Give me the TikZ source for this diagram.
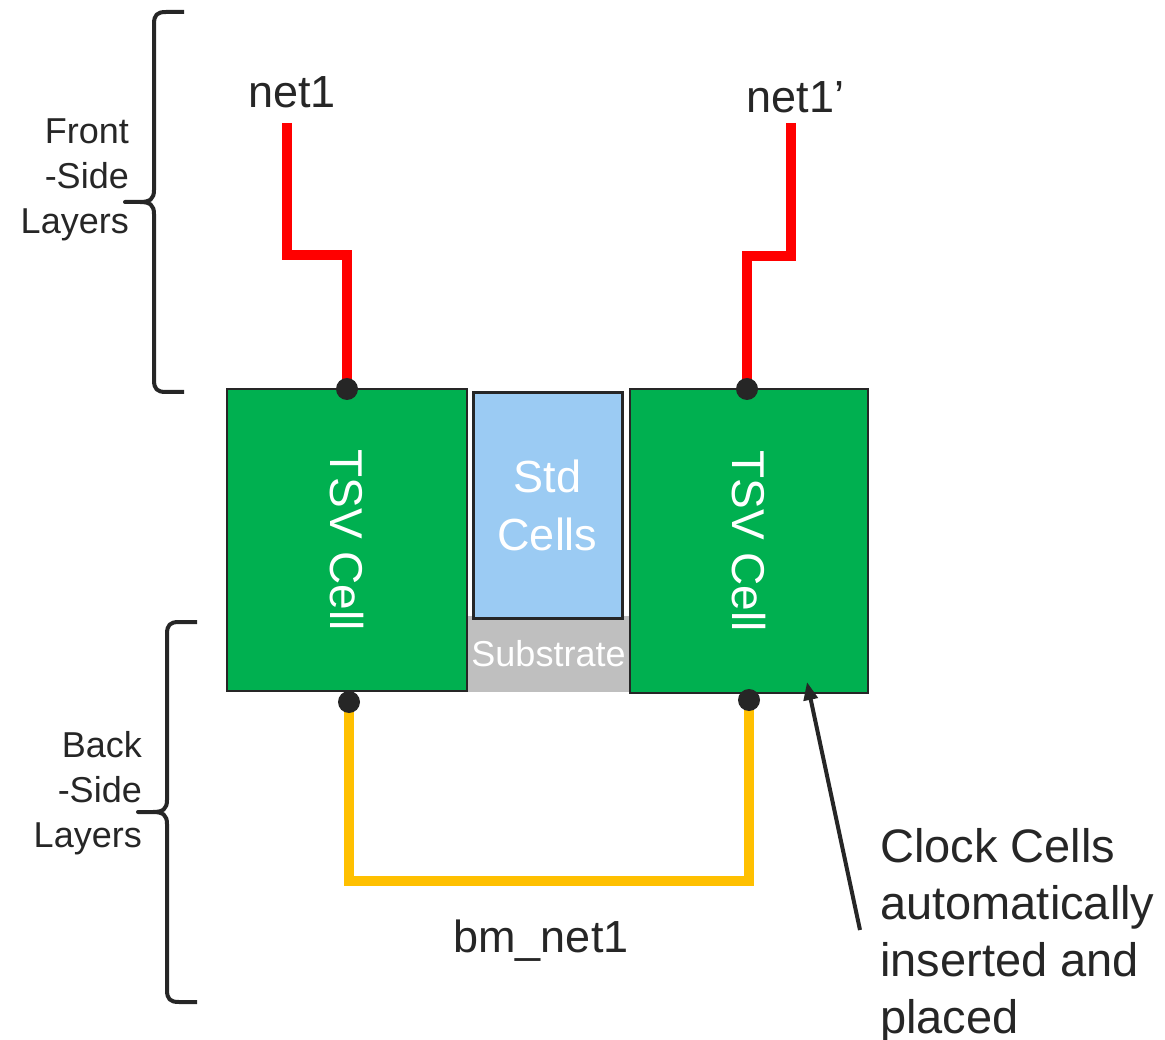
\documentclass[tikz,border=0pt]{standalone}
\usepackage{fontspec}
\setmainfont{Liberation Sans}
\usetikzlibrary{arrows.meta,backgrounds}
\definecolor{ink}{RGB}{38,38,38}
\definecolor{tsvgreen}{RGB}{0,176,80}
\definecolor{stdblue}{RGB}{155,203,243}
\definecolor{subgray}{RGB}{191,191,191}
\definecolor{wirered}{RGB}{255,0,0}
\definecolor{wireyellow}{RGB}{255,192,0}
\begin{document}
\begin{tikzpicture}[x=1pt, y=-1pt,
  every node/.style={text=ink},
  tsvbox/.style={draw=ink, line width=2pt, fill=tsvgreen, inner sep=0pt},
  stdbox/.style={draw=ink, line width=3pt, fill=stdblue, inner sep=0pt, text=white, align=center, font=\fontsize{45}{58}\selectfont},
  subbox/.style={fill=subgray, inner sep=0pt, text=white, font=\fontsize{36}{43}\selectfont},
  celltext/.style={text=white, rotate=-90, font=\fontsize{46}{55}\selectfont},
  pad/.style={circle, fill=ink, inner sep=0pt, minimum size=22pt},
  frontwire/.style={draw=wirered, line width=10pt},
  backwire/.style={draw=wireyellow, line width=10pt},
  netlabel/.style={font=\fontsize{45}{54}\selectfont},
  sidelabel/.style={align=right, inner sep=0pt, font=\fontsize{36}{45}\selectfont},
  pointer/.style={draw=ink, line width=4pt, -{Triangle[length=18pt, width=14pt]}},
  sidebrace/.pic={
    \draw[ink, line width=4pt, line join=round] (30,0) -- (12,0) .. controls (3,0) and (0,3) .. (0,12) -- (0,178)
      .. controls (0,187) and (-4,190) .. (-14,190) -- (-29,190) -- (-14,190)
      .. controls (-4,190) and (0,193) .. (0,202) -- (0,368) .. controls (0,377) and (3,380) .. (12,380) -- (30,380);
  }]
  \useasboundingbox (0,0) rectangle (1165,1040);
  \node[subbox, minimum width=163pt, minimum height=76pt] (sub) at (548.5,654) {Substrate};
  \node[stdbox, minimum width=149pt, minimum height=225pt] (std) at (547.5,505.5) {Std\\Cells};
  \node[tsvbox, minimum width=240pt, minimum height=302pt] (tsvL) at (347,540) {};
  \node[tsvbox, minimum width=238pt, minimum height=304pt] (tsvR) at (749,541) {};
  \node[celltext] at (tsvL.center) {TSV Cell};
  \node[celltext] at (tsvR.center) {TSV Cell};
  \node[pad] (padTL) at (347,389) {};
  \node[pad] (padTR) at (747,389) {};
  \node[pad] (padBL) at (349,702) {};
  \node[pad] (padBR) at (749,700) {};
  \node[netlabel, anchor=base] (net1) at (292,108) {net1};
  \node[netlabel, anchor=base west] (net1p) at (743,113) {net1’};
  \coordinate (n1top) at (287,123);
  \coordinate (n2top) at (791,123);
  \begin{pgfonlayer}{background}
    \draw[frontwire] (n1top) -- ++(0,132) -| (padTL.center);
    \draw[frontwire] (n2top) -- ++(0,133) -| (padTR.center);
    \draw[backwire] (padBL.center) -- ++(0,179) -| (padBR.center);
  \end{pgfonlayer}
  \node[netlabel, anchor=base] (bmnet) at (541,952) {bm\_net1};
  \pic at (154,12) {sidebrace};
  \pic at (167,622) {sidebrace};
  \node[sidelabel, anchor=north east] (front) at (129,119) {Front\\-Side\\Layers};
  \node[sidelabel, anchor=north east] (back) at (142,731) {Back\\-Side\\Layers};
  \node[anchor=north west, align=left, inner sep=0pt, font=\fontsize{47}{57}\selectfont] (clock) at (880,828) {Clock Cells\\automatically\\inserted and\\placed};
  \coordinate (clkTail) at (860,930);
  \coordinate (clkTip) at (807,682);
  \draw[pointer] (clkTail) -- (clkTip);
\end{tikzpicture}
\end{document}
